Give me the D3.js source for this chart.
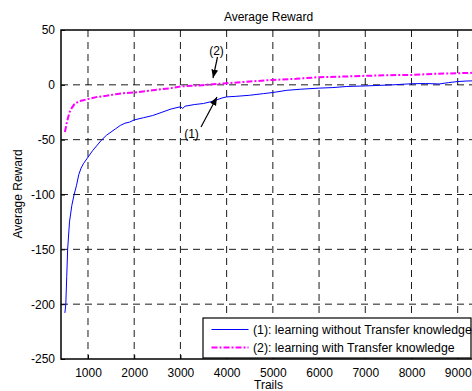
<!DOCTYPE html>
<html>
<head>
<meta charset="utf-8">
<script src="https://cdn.jsdelivr.net/npm/d3@7"></script>
<style>
  body { margin: 0; background: #fff; }
  svg { display: block; overflow: hidden; }
  text { font-family: "Liberation Sans", Arial, sans-serif; font-size: 12px; fill: #000; }
</style>
</head>
<body>
<svg id="viz"></svg>
<script>
let width = 472;
let height = 391;

// values
let trials1 = [500, 520, 540, 560, 600, 650, 700, 750, 800, 850, 900, 1000, 1100, 1200, 1300, 1400, 1500, 1600, 1700, 1800, 1900, 2000, 2200, 2400, 2600, 2800, 3000, 3050, 3100, 3300, 3500, 3700, 3900, 4000, 4200, 4500, 4800, 5000, 5300, 5600, 6000, 6300, 6600, 7000, 7300, 7600, 8000, 8300, 8600, 8800, 9000, 9200, 9400];
let reward1 = [-208, -200, -175, -150, -125, -110, -100, -92, -82, -76, -72, -66, -60, -55, -50, -46, -43, -40, -37, -35, -34, -32, -30, -28, -25, -22, -20, -21.5, -19.5, -18, -17, -15, -12, -11, -10.5, -9.5, -8, -7, -5, -4, -3, -2.5, -1.5, -1, -0.5, 0, 1, 1.2, 0.8, 2, 3, 3.5, 3.7];

let trials2 = [500, 550, 600, 650, 700, 800, 900, 1000, 1200, 1400, 1600, 1800, 2000, 2400, 2800, 3000, 3400, 3700, 4000, 4500, 5000, 5500, 6000, 6500, 7000, 7500, 8000, 8500, 9000, 9400];
let reward2 = [-43, -33, -25, -21, -18, -15, -14, -13, -11, -10, -8.5, -7.5, -7, -5, -3, -1.5, -0.5, 0.5, 1.5, 3, 4.5, 5.5, 7, 7.5, 8.2, 8.8, 9, 10, 10.6, 11];

let xTicks = [1000, 2000, 3000, 4000, 5000, 6000, 7000, 8000, 9000];
let yTicks = [50, 0, -50, -100, -150, -200, -250];
let legendLabels = ["(1): learning without Transfer knowledge", "(2): learning with Transfer knowledge"];

let plotLeft = 61, plotRight = 476, plotTop = 30, plotBottom = 359;

let svg = d3.select("#viz")
    .attr("width", width)
    .attr("height", height);

let x = d3.scaleLinear().domain([416, 9396]).range([plotLeft, plotRight]);
let y = d3.scaleLinear().domain([-250, 50]).range([plotBottom, plotTop]);

// grid
let grid = svg.append("g");
grid.selectAll("line.vx")
    .data(xTicks)
    .enter()
    .append("line")
    .attr("x1", d => x(d)).attr("x2", d => x(d))
    .attr("y1", plotTop).attr("y2", plotBottom)
    .attr("stroke", "#000").attr("stroke-width", 0.9)
    .attr("stroke-dasharray", "7,5");
grid.selectAll("line.hy")
    .data(yTicks.filter(d => d != 50 && d != -250))
    .enter()
    .append("line")
    .attr("x1", plotLeft).attr("x2", plotRight)
    .attr("y1", d => y(d)).attr("y2", d => y(d))
    .attr("stroke", "#000").attr("stroke-width", 0.9)
    .attr("stroke-dasharray", "7,5");

// axes (plain hyphen minus, no thousands separator)
let xAxis = d3.axisBottom(x).tickValues(xTicks).tickFormat(d => String(d)).tickSize(-4).tickPadding(9);
let yAxis = d3.axisLeft(y).tickValues(yTicks).tickFormat(d => String(d)).tickSize(-4).tickPadding(6);

let gx = svg.append("g").attr("transform", "translate(0," + plotBottom + ")").call(xAxis);
let gy = svg.append("g").attr("transform", "translate(" + plotLeft + ",0)").call(yAxis);
gx.select(".domain").remove();
gy.select(".domain").remove();
svg.selectAll(".tick text").style("font-size", "12px").attr("fill", "#000");
svg.selectAll(".tick line").attr("stroke", "#000");

svg.append("rect")
    .attr("x", plotLeft).attr("y", plotTop)
    .attr("width", plotRight - plotLeft).attr("height", plotBottom - plotTop)
    .attr("fill", "none").attr("stroke", "#000").attr("stroke-width", 1.5);

// series
let line = d3.line().x(d => x(d[0])).y(d => y(d[1]));

svg.append("path")
    .datum(d3.zip(trials2, reward2))
    .attr("d", line)
    .attr("fill", "none")
    .attr("stroke", "#ff00ff")
    .attr("stroke-width", 2)
    .attr("stroke-dasharray", "6,2,2,2");

svg.append("path")
    .datum(d3.zip(trials1, reward1))
    .attr("d", line)
    .attr("fill", "none")
    .attr("stroke", "#0000ff")
    .attr("stroke-width", 1);

// annotations
svg.append("defs").append("marker")
    .attr("id", "arrow")
    .attr("viewBox", "0 0 10 10")
    .attr("refX", 10).attr("refY", 5)
    .attr("markerWidth", 7).attr("markerHeight", 7)
    .attr("orient", "auto")
    .append("path")
    .attr("d", "M0,1 L10,5 L0,9 Z")
    .attr("fill", "#000");

svg.append("line")
    .attr("x1", 217.5).attr("y1", 57)
    .attr("x2", 213).attr("y2", 78)
    .attr("stroke", "#000").attr("stroke-width", 1.2)
    .attr("marker-end", "url(#arrow)");
svg.append("text").attr("x", 216.5).attr("y", 54.5).attr("text-anchor", "middle").text("(2)");

svg.append("line")
    .attr("x1", 201).attr("y1", 127)
    .attr("x2", 217).attr("y2", 97)
    .attr("stroke", "#000").attr("stroke-width", 1.2)
    .attr("marker-end", "url(#arrow)");
svg.append("text").attr("x", 191.5).attr("y", 138).attr("text-anchor", "middle").text("(1)");

// titles
svg.append("text").attr("x", 268.5).attr("y", 20.5).attr("text-anchor", "middle").text("Average Reward");
svg.append("text").attr("x", 268.5).attr("y", 389).attr("text-anchor", "middle").text("Trails");
svg.append("text")
    .attr("transform", "translate(22,194) rotate(-90)")
    .attr("text-anchor", "middle")
    .text("Average Reward");

// legend
let legend = svg.append("g");
legend.append("rect")
    .attr("x", 203).attr("y", 318)
    .attr("width", 268).attr("height", 40)
    .attr("fill", "#fff").attr("stroke", "#000").attr("stroke-width", 1.2);
let legendStyles = [{ c: "#0000ff", w: 1, dash: null }, { c: "#ff00ff", w: 2, dash: "6,2,2,2" }];
legend.selectAll("line.item")
    .data(legendLabels)
    .enter()
    .append("line")
    .attr("x1", 211.5).attr("x2", 248.5)
    .attr("y1", (d, i) => 329.5 + i * 18).attr("y2", (d, i) => 329.5 + i * 18)
    .attr("stroke", (d, i) => legendStyles[i].c)
    .attr("stroke-width", (d, i) => legendStyles[i].w)
    .attr("stroke-dasharray", (d, i) => legendStyles[i].dash);
legend.selectAll("text.item")
    .data(legendLabels)
    .enter()
    .append("text")
    .attr("x", 253)
    .attr("y", (d, i) => 333.5 + i * 18)
    .style("font-size", "12.3px")
    .text(d => d);
</script>
</body>
</html>
